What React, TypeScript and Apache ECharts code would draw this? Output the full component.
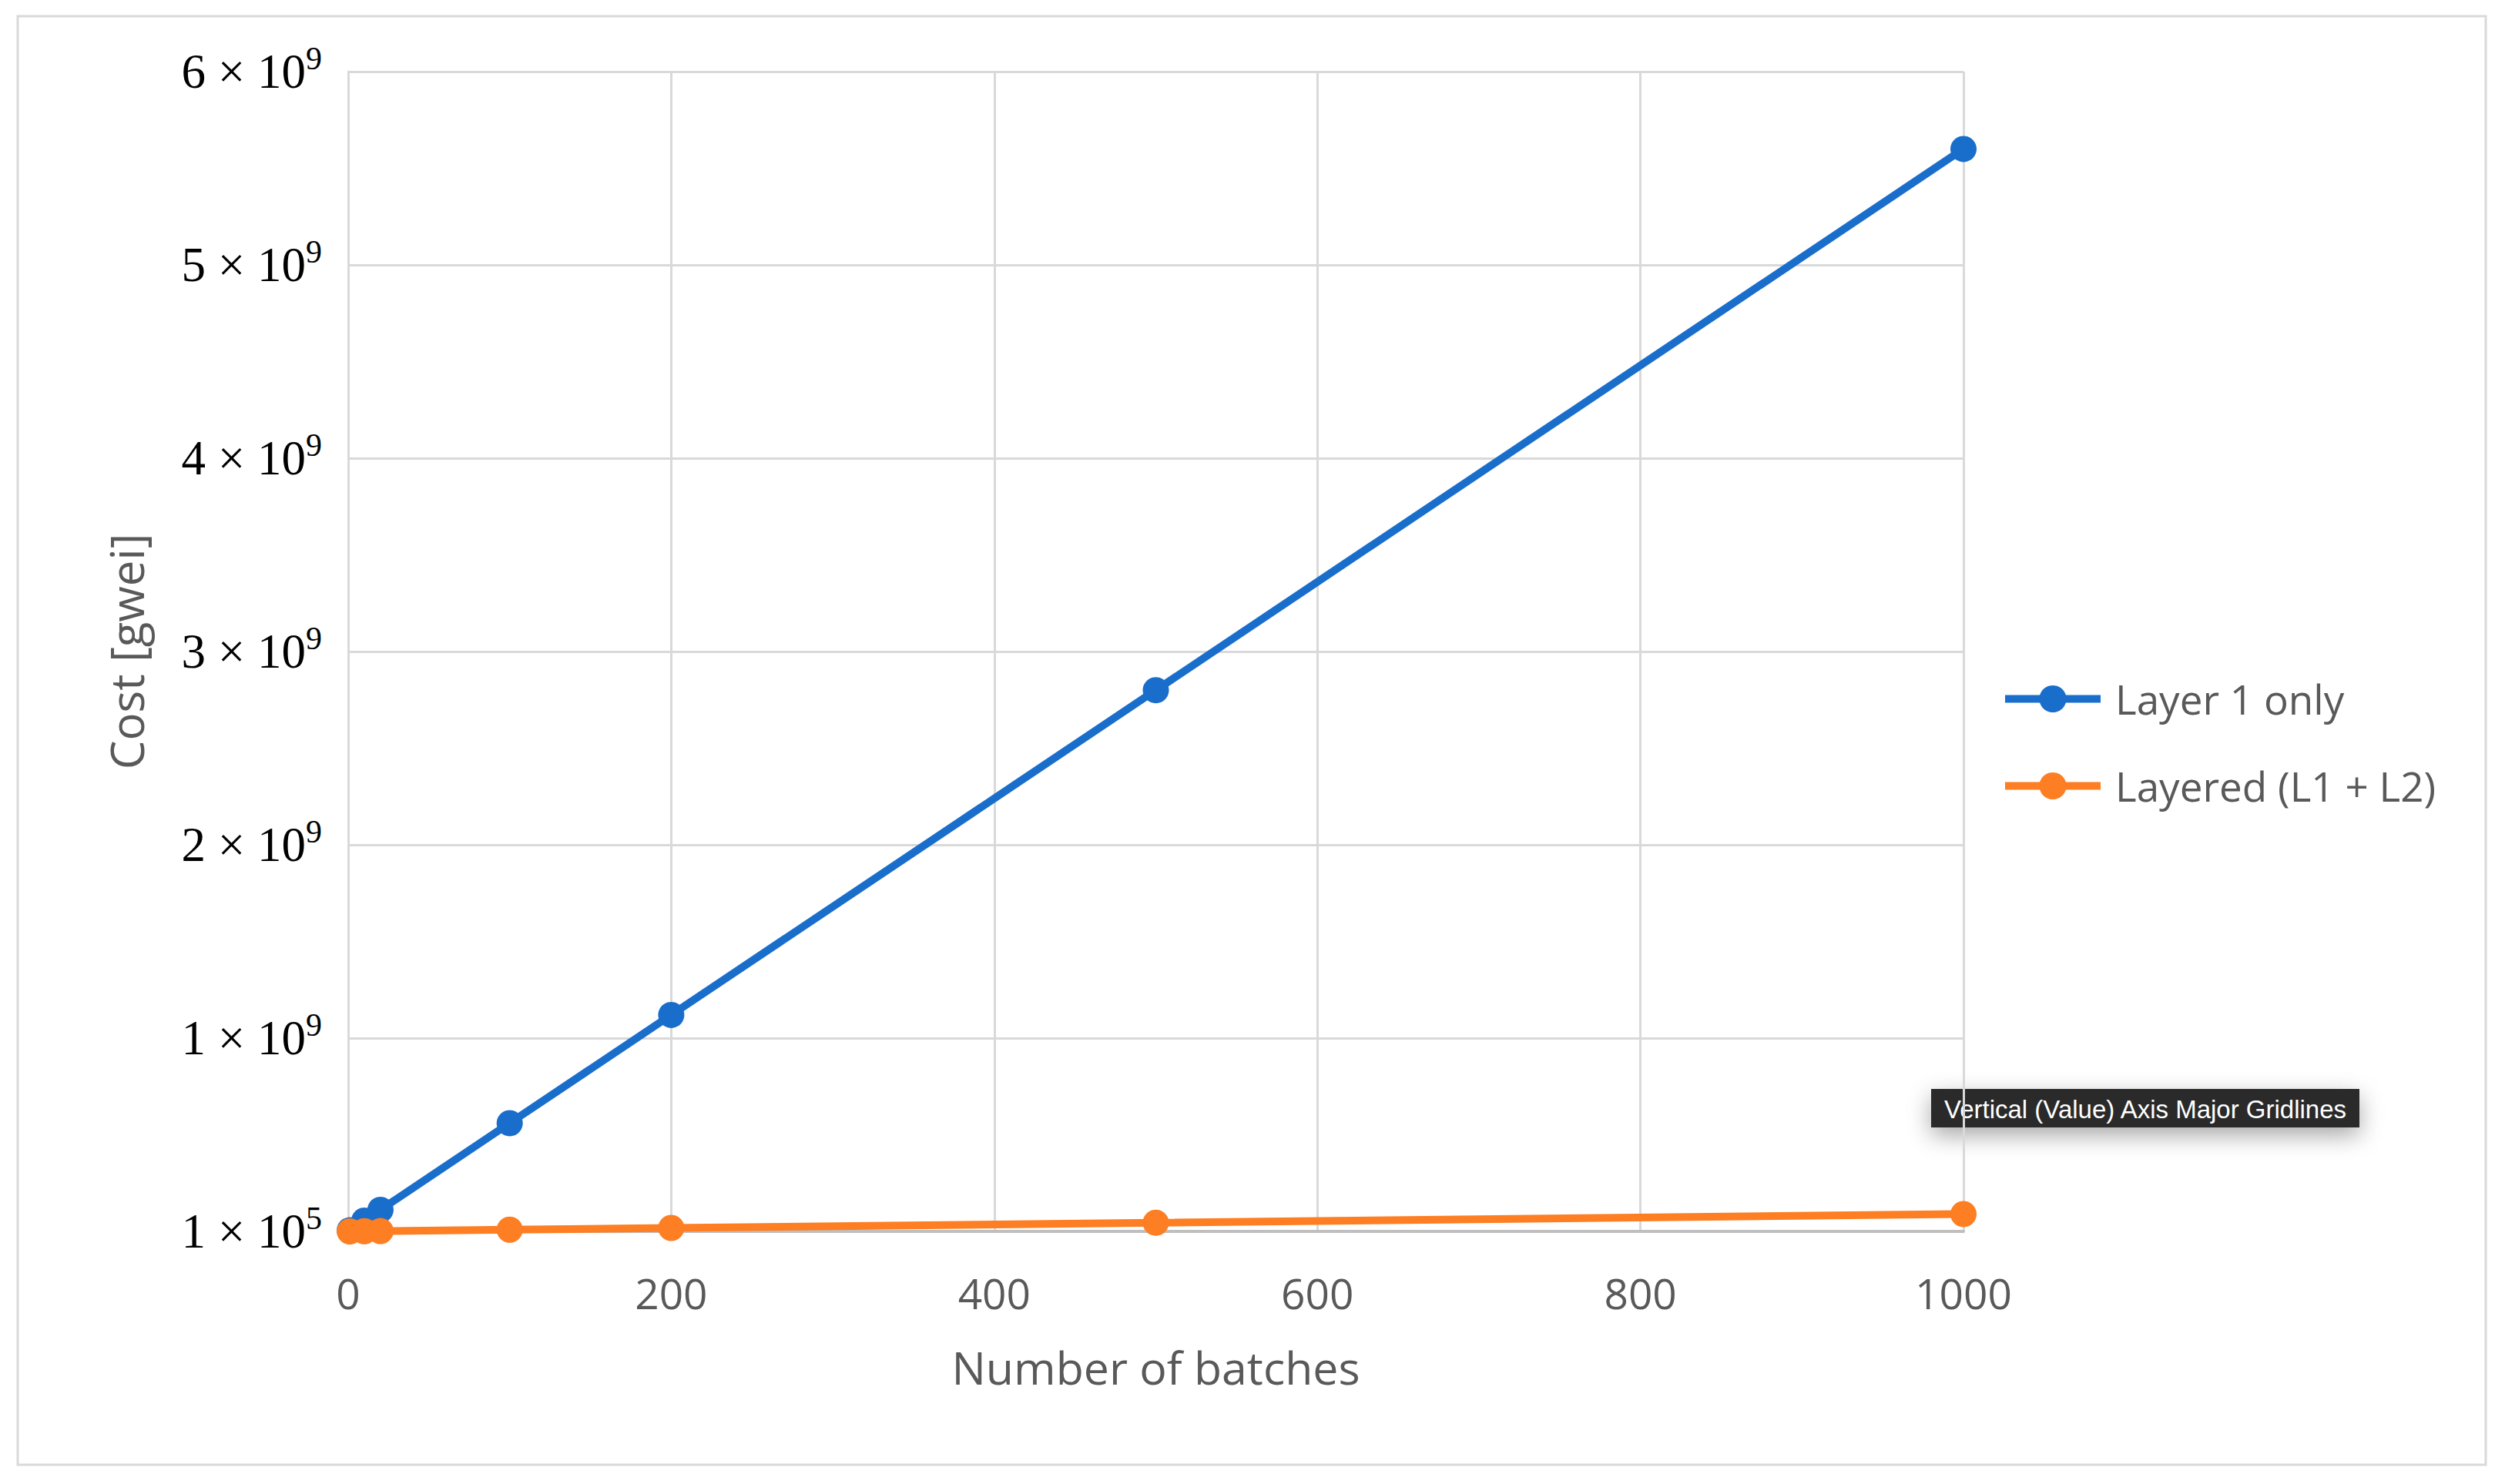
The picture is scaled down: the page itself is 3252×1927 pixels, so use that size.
import React, { useEffect, useRef } from "react";
import * as echarts from "echarts";

const batches = [1, 10, 20, 100, 200, 500, 1000];
const layer1Only = [5.6e6, 5.6e7, 1.12e8, 5.6e8, 1.12e9, 2.8e9, 5.6e9];
const layered = [1e5, 9e5, 1.8e6, 9e6, 1.8e7, 4.5e7, 9e7];
const seriesNames = ["Layer 1 only", "Layered (L1 + L2)"];
const yTickBase = ["1 × 10", "1 × 10", "2 × 10", "3 × 10", "4 × 10", "5 × 10", "6 × 10"];
const yTickExp = ["5", "9", "9", "9", "9", "9", "9"];
const xTitle = "Number of batches";
const yTitle = "Cost [gwei]";
const tooltipText = "Vertical (Value) Axis Major Gridlines";

const BLUE = "#1a6ecb";
const ORANGE = "#fd7e23";
const GRID = "#d9d9d9";
const GRAY_TEXT = "#595959";
const SANS = "'Open Sans', 'Noto Sans', sans-serif";
const SERIF = "'Liberation Serif', 'DejaVu Serif', serif";

export default function App() {
  const ref = useRef<HTMLDivElement>(null);
  useEffect(() => {
    if (!ref.current) return;
    const chart = echarts.init(ref.current, null, { renderer: "svg" });
    const toPairs = (ys: number[]) => batches.map((x, i) => [x, ys[i]]);
    chart.setOption({
      animation: false,
      backgroundColor: "#ffffff",
      grid: { left: 452, right: 703, top: 93, bottom: 328 },
      xAxis: {
        type: "value",
        min: 0,
        max: 1000,
        interval: 200,
        name: xTitle,
        nameLocation: "middle",
        nameGap: 146,
        nameTextStyle: { fontFamily: SANS, fontSize: 59, color: GRAY_TEXT },
        axisLine: { show: true, lineStyle: { color: "#bfbfbf", width: 4 } },
        axisTick: { show: false },
        axisLabel: {
          fontFamily: SANS,
          fontSize: 55,
          color: GRAY_TEXT,
          margin: 52,
          formatter: (v: number) => String(v),
        },
        splitLine: { show: true, lineStyle: { color: GRID, width: 3 } },
      },
      yAxis: {
        type: "value",
        min: 0,
        max: 6e9,
        interval: 1e9,
        name: yTitle,
        nameLocation: "middle",
        nameRotate: 90,
        nameGap: 258,
        nameTextStyle: { fontFamily: SANS, fontSize: 60, color: GRAY_TEXT },
        axisLine: { show: true, lineStyle: { color: GRID, width: 3 } },
        axisTick: { show: false },
        axisLabel: {
          margin: 34,
          formatter: (v: number) => {
            const i = Math.round(v / 1e9);
            return `{b|${yTickBase[i]}}{s|${yTickExp[i]}}`;
          },
          rich: {
            b: { fontFamily: SERIF, fontSize: 63, color: "#000", lineHeight: 76 },
            s: { fontFamily: SERIF, fontSize: 42, color: "#000", lineHeight: 42, verticalAlign: "top" },
          },
        },
        splitLine: { show: true, lineStyle: { color: GRID, width: 3 } },
      },
      legend: {
        orient: "vertical",
        left: 2593,
        top: 876,
        itemWidth: 124,
        itemHeight: 44,
        itemGap: 60,
        lineStyle: { width: 10 },
        itemStyle: { borderWidth: 0 },
        textStyle: { fontFamily: SANS, fontSize: 53, color: GRAY_TEXT, padding: [0, 0, 0, 14] },
        data: seriesNames,
      },
      series: [
        {
          name: seriesNames[0],
          type: "line",
          data: toPairs(layer1Only),
          symbol: "circle",
          symbolSize: 34,
          lineStyle: { color: BLUE, width: 10 },
          itemStyle: { color: BLUE },
          z: 2,
        },
        {
          name: seriesNames[1],
          type: "line",
          data: toPairs(layered),
          symbol: "circle",
          symbolSize: 34,
          lineStyle: { color: ORANGE, width: 10 },
          itemStyle: { color: ORANGE },
          z: 3,
        },
      ],
      graphic: [
        {
          type: "rect",
          shape: { x: 23, y: 21, width: 3204, height: 1881 },
          style: { fill: "none", stroke: GRID, lineWidth: 3 },
          silent: true,
          z: -1,
        },
        {
          type: "group",
          left: 2507,
          top: 1414,
          z: 100,
          children: [
            {
              type: "rect",
              shape: { x: 0, y: 0, width: 556, height: 50 },
              style: {
                fill: "#2a2a2a",
                shadowBlur: 30,
                shadowColor: "rgba(0,0,0,0.35)",
                shadowOffsetY: 10,
              },
            },
            {
              type: "text",
              x: 278,
              y: 26,
              style: {
                text: tooltipText,
                fill: "#ffffff",
                fontFamily: "'Liberation Sans', Arial, sans-serif",
                fontSize: 33,
                align: "center",
                verticalAlign: "middle",
              },
            },
          ],
        },
      ],
    });
    return () => chart.dispose();
  }, []);
  return (
    <div
      ref={ref}
      style={{ position: "fixed", left: 0, top: 0, width: 3252, height: 1927 }}
    />
  );
}
